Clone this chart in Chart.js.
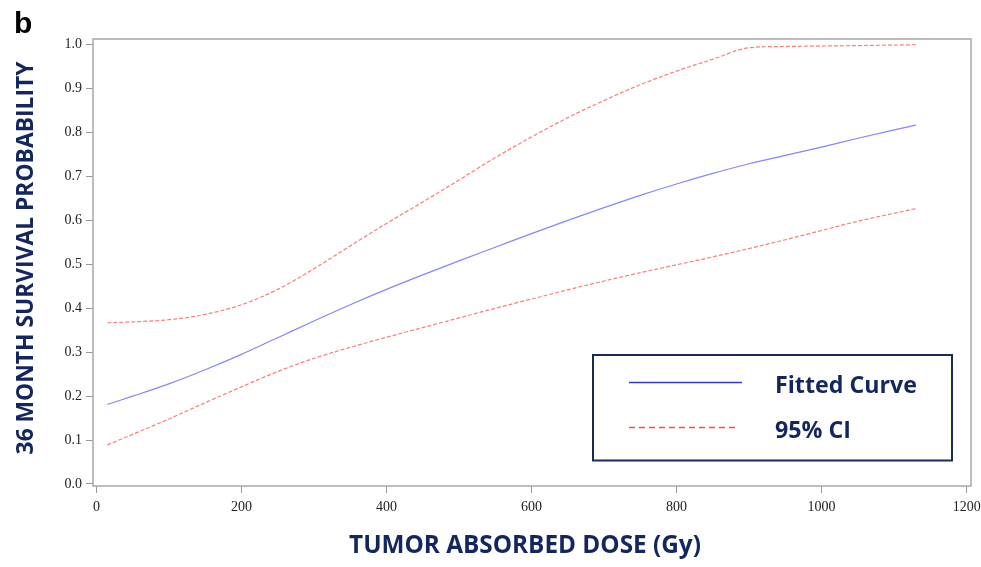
<!DOCTYPE html>
<html>
<head>
<meta charset="utf-8">
<script src="https://cdn.jsdelivr.net/npm/chart.js@4"></script>
<style>
  html, body { margin: 0; padding: 0; background: #fff; }
  #wrap { width: 981px; height: 567px; position: relative; }
</style>
</head>
<body>
<div id="wrap"><canvas id="survChart"></canvas></div>
<script>
// dados
const dose = [15, 50, 100, 150, 200, 250, 300, 350, 400, 450, 500, 550, 600, 650, 700, 750, 800, 850, 900, 950, 1000, 1050, 1130];
const fitted = [0.181, 0.200, 0.228, 0.260, 0.295, 0.333, 0.371, 0.408, 0.443, 0.476, 0.508, 0.539, 0.570, 0.600, 0.629, 0.657, 0.683, 0.707, 0.729, 0.748, 0.767, 0.787, 0.817];
const upperCI = [0.367, 0.369, 0.374, 0.386, 0.408, 0.443, 0.490, 0.542, 0.593, 0.642, 0.692, 0.743, 0.790, 0.834, 0.873, 0.909, 0.940, 0.967, 0.993, 0.996, 0.997, 0.998, 1.000];
const lowerCI = [0.089, 0.113, 0.148, 0.185, 0.221, 0.256, 0.286, 0.311, 0.334, 0.356, 0.378, 0.400, 0.421, 0.442, 0.462, 0.481, 0.499, 0.517, 0.536, 0.556, 0.577, 0.598, 0.627];
const xTicks = [0, 200, 400, 600, 800, 1000, 1200];
const yTicks = [0, 0.1, 0.2, 0.3, 0.4, 0.5, 0.6, 0.7, 0.8, 0.9, 1.0];
const legendLabels = ["Fitted Curve", "95% CI"];
const xTitle = "TUMOR ABSORBED DOSE (Gy)";
const yTitle = "36 MONTH SURVIVAL PROBABILITY";
const panelLabel = "b";

const NAVY = "#13265f";
const BLUE = "rgba(120,120,255,0.9)";
const RED = "rgba(255,110,110,0.9)";

const toPoints = (ys) => dose.map((d, i) => ({ x: d, y: ys[i] }));

// acha o tamanho de fonte que dá a largura pedida
function fitSize(ctx, text, width, family) {
  ctx.font = "bold 20px " + family;
  return 20 * width / ctx.measureText(text).width;
}

const decor = {
  id: "decor",
  beforeDraw(chart) {
    const c = chart.ctx;
    c.save();
    c.fillStyle = "#fff";
    c.fillRect(0, 0, chart.width, chart.height);
    c.restore();
  },
  afterDraw(chart) {
    const c = chart.ctx;
    const a = chart.chartArea;
    const fam = "'Open Sans', 'Noto Sans', sans-serif";
    c.save();
    // moldura
    c.strokeStyle = "#a8a8a8";
    c.lineWidth = 1.5;
    c.strokeRect(a.left, a.top, a.right - a.left, a.bottom - a.top);

    // letra do painel
    c.fillStyle = "#000";
    c.font = "bold 30px 'Liberation Sans', Arial, sans-serif";
    c.textAlign = "left";
    c.textBaseline = "alphabetic";
    c.fillText(panelLabel, 14, 33);

    // titulos dos eixos
    c.fillStyle = NAVY;
    c.textAlign = "center";
    let s = fitSize(c, xTitle, 352, fam);
    c.font = "bold " + s + "px " + fam;
    c.fillText(xTitle, 525, 553);

    s = fitSize(c, yTitle, 393, fam);
    c.save();
    c.translate(33, 258);
    c.rotate(-Math.PI / 2);
    c.font = "bold " + s + "px " + fam;
    c.fillText(yTitle, 0, 0);
    c.restore();

    // legenda
    c.strokeStyle = "#1a2a5a";
    c.lineWidth = 2;
    c.strokeRect(593, 355, 359, 105.5);

    c.strokeStyle = "#3535e6";
    c.lineWidth = 1.6;
    c.beginPath();
    c.moveTo(629, 382.5);
    c.lineTo(742, 382.5);
    c.stroke();

    c.strokeStyle = "#ff4a4a";
    c.setLineDash([6, 4]);
    c.beginPath();
    c.moveTo(629, 427.5);
    c.lineTo(738, 427.5);
    c.stroke();
    c.setLineDash([]);

    s = fitSize(c, legendLabels[0], 142, fam);
    c.font = "bold " + s + "px " + fam;
    c.fillStyle = NAVY;
    c.textAlign = "left";
    c.fillText(legendLabels[0], 775, 393);
    c.fillText(legendLabels[1], 775, 438);
    c.restore();
  }
};

const tickFont = { family: "'Liberation Serif', 'Times New Roman', serif", size: 14 };

new Chart(document.getElementById("survChart"), {
  type: "line",
  data: {
    datasets: [
      {
        label: "Fitted Curve",
        data: toPoints(fitted),
        borderColor: BLUE,
        borderWidth: 1.2,
        pointRadius: 0,
        cubicInterpolationMode: "monotone",
      },
      {
        label: "95% CI upper",
        data: toPoints(upperCI),
        borderColor: RED,
        borderWidth: 1.2,
        borderDash: [4, 2],
        pointRadius: 0,
        cubicInterpolationMode: "monotone",
      },
      {
        label: "95% CI lower",
        data: toPoints(lowerCI),
        borderColor: RED,
        borderWidth: 1.2,
        borderDash: [4, 2],
        pointRadius: 0,
        cubicInterpolationMode: "monotone",
      },
    ],
  },
  options: {
    responsive: true,
    maintainAspectRatio: false,
    animation: false,
    layout: { padding: { top: 39, right: 10, left: 0, bottom: 0 } },
    plugins: { legend: { display: false }, tooltip: { enabled: false } },
    scales: {
      x: {
        type: "linear",
        min: -4.7,
        max: 1206,
        afterBuildTicks: (s) => { s.ticks = xTicks.map((v) => ({ value: v })); },
        afterFit: (s) => { s.height = 81; s.paddingLeft = 0; s.paddingRight = 0; },
        grid: { drawOnChartArea: false, color: "#999", tickLength: 7 },
        border: { display: false },
        ticks: { font: tickFont, color: "#222", padding: 6, maxRotation: 0, callback: (v) => String(v) },
      },
      y: {
        type: "linear",
        min: -0.0046,
        max: 1.013,
        afterBuildTicks: (s) => { s.ticks = yTicks.map((v) => ({ value: v })); },
        afterFit: (s) => { s.width = 93; s.paddingTop = 0; s.paddingBottom = 0; },
        grid: { drawOnChartArea: false, color: "#999", tickLength: 7 },
        border: { display: false },
        ticks: { font: tickFont, color: "#222", padding: 4, callback: (v) => v.toFixed(1) },
      },
    },
  },
  plugins: [decor],
});
</script>
</body>
</html>
